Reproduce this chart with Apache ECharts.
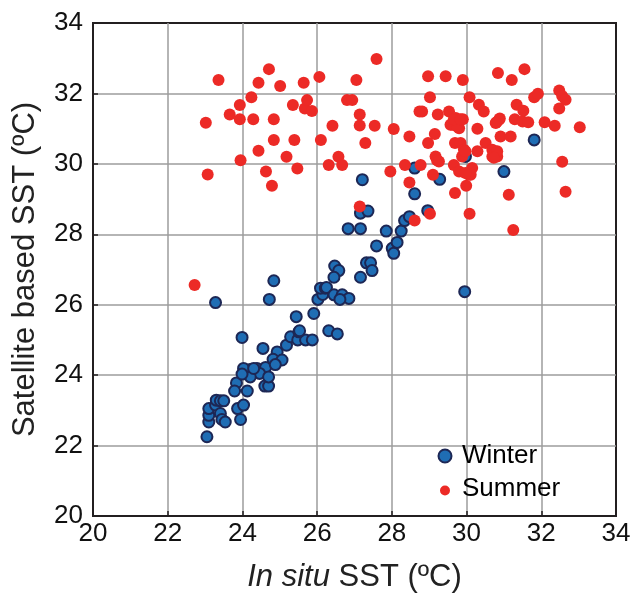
<!DOCTYPE html>
<html>
<head>
<meta charset="utf-8">
<script src="https://cdn.jsdelivr.net/npm/echarts@6/dist/echarts.min.js"></script>
<style>
  html, body { margin: 0; padding: 0; background: #fff; }
  #sst { width: 634px; height: 599px; }
</style>
</head>
<body>
<div id="sst"></div>
<script>
// in situ SST vs satellite SST, [x, y] pairs
var winterPts = [
  [23.05, 22.25], [23.10, 22.67], [23.10, 22.86], [23.10, 23.05], [23.28, 23.15],
  [23.30, 23.29], [23.41, 23.27], [23.50, 23.27], [23.41, 22.91], [23.45, 22.74],
  [23.54, 22.67], [23.87, 23.05], [24.03, 23.15], [23.95, 22.74], [23.84, 23.78],
  [23.79, 23.55], [24.13, 23.55], [24.60, 23.69], [24.70, 23.69], [24.08, 24.05],
  [24.21, 24.16], [24.39, 24.19], [24.62, 24.22], [24.46, 24.05], [24.21, 23.95],
  [24.70, 23.95], [24.03, 24.19], [24.30, 24.19], [23.99, 24.03], [24.55, 24.76],
  [23.99, 25.07], [24.93, 24.66], [24.82, 24.45], [25.06, 24.43], [24.88, 24.30],
  [25.18, 24.85], [25.29, 25.09], [25.48, 25.00], [25.69, 25.00], [25.51, 25.23],
  [25.87, 25.00], [25.44, 25.66], [25.53, 25.26], [25.91, 25.75], [26.31, 25.26],
  [26.54, 25.17], [23.28, 26.06], [24.72, 26.15], [24.84, 26.68], [26.02, 26.15],
  [26.15, 26.29], [26.09, 26.47], [26.22, 26.47], [26.25, 26.49], [26.45, 26.28],
  [26.67, 26.28], [26.85, 26.18], [26.61, 26.15], [26.47, 27.10], [26.58, 26.97],
  [26.45, 26.78], [27.32, 27.19], [27.43, 27.19], [27.47, 26.97], [27.16, 26.78],
  [27.59, 27.67], [28.01, 27.60], [28.05, 27.46], [28.14, 27.77], [27.85, 28.09],
  [28.25, 28.09], [28.34, 28.39], [28.47, 28.50], [28.96, 28.67], [26.83, 28.16],
  [27.16, 28.16], [27.16, 28.60], [27.36, 28.66], [27.21, 29.55], [28.61, 29.15],
  [28.61, 29.88], [29.28, 29.56], [29.97, 30.21], [31.00, 29.78], [31.81, 30.68],
  [29.95, 26.37]
]

var summerPts = [
  [22.72, 26.56], [23.02, 31.17], [23.07, 29.70], [23.36, 32.38], [23.66, 31.40],
  [23.93, 31.67], [23.93, 31.27], [23.95, 30.10], [24.24, 31.89], [24.29, 31.27],
  [24.43, 32.30], [24.43, 30.37], [24.63, 29.78], [24.71, 32.69], [24.79, 29.38],
  [24.84, 31.27], [24.84, 30.68], [25.01, 32.21], [25.18, 30.20], [25.35, 31.67],
  [25.39, 30.68], [25.47, 29.87], [25.64, 32.30], [25.67, 31.57], [25.73, 31.81],
  [25.86, 31.50], [26.06, 32.47], [26.10, 30.68], [26.31, 29.97], [26.41, 31.08],
  [26.57, 30.20], [26.67, 29.97], [26.80, 31.81], [26.94, 31.81], [27.05, 32.38],
  [27.14, 31.40], [27.14, 31.09], [27.29, 30.59], [27.14, 28.79], [27.54, 31.08],
  [27.59, 32.98], [27.96, 29.78], [28.05, 30.99], [28.35, 29.97], [28.47, 30.78],
  [28.47, 29.47], [28.61, 28.39], [28.74, 31.49], [28.81, 31.49], [28.77, 29.97],
  [28.97, 32.49], [28.97, 30.59], [29.02, 31.89], [29.02, 28.58], [29.10, 29.69],
  [29.15, 30.85], [29.17, 30.21], [29.21, 30.10], [29.23, 31.40], [29.44, 32.49],
  [29.53, 31.49], [29.62, 31.11], [29.66, 29.97], [29.69, 30.59], [29.69, 29.17],
  [29.71, 31.30], [29.80, 31.01], [29.80, 29.78], [29.84, 30.59], [29.88, 30.21],
  [29.90, 32.38], [29.90, 31.27], [29.93, 30.40], [29.99, 29.38], [30.06, 29.69],
  [30.08, 31.89], [30.08, 28.58], [30.15, 29.88], [30.29, 31.00], [30.29, 30.36],
  [30.33, 31.68], [30.46, 31.49], [30.51, 30.59], [30.69, 30.40], [30.69, 30.21],
  [30.80, 31.18], [30.82, 30.21], [30.84, 32.58], [30.89, 31.29], [30.91, 30.78],
  [31.13, 29.12], [31.18, 30.78], [31.21, 32.38], [31.25, 28.12], [31.29, 31.27],
  [31.34, 31.68], [31.50, 31.20], [31.52, 31.51], [31.55, 32.69], [31.65, 31.18],
  [31.81, 31.89], [31.91, 31.99], [32.09, 31.18], [32.36, 31.08], [32.48, 32.08],
  [32.56, 31.93], [32.65, 31.82], [32.48, 31.57], [32.56, 30.06], [32.65, 29.21],
  [33.03, 31.04], [29.57, 31.11], [29.75, 31.06], [29.66, 31.27], [29.84, 31.27],
  [30.87, 31.25], [30.78, 31.16], [29.97, 30.36], [30.82, 30.36], [30.73, 30.17],
  [29.26, 30.07], [30.11, 29.69], [29.97, 29.74]
]

var axisMin = 20
var axisMax = 34
var axisStep = 2

var charts = echarts.init(document.getElementById('sst'))
var font = 'Liberation Sans, Arial, sans-serif'
// smaller red dot in the legend: corner points pad the path box
var smallDot = 'path://M0,0L0.01,0M26,0L26.01,0M0,13L0.01,13M26,13L26.01,13M18,8A5,5 0 1,1 18,7.99Z'

var options = {
  animation: false,
  textStyle: { fontFamily: font },
  grid: {
    left: 93,
    right: 18,
    top: 23,
    bottom: 83,
    show: true,
    borderColor: '#231f20',
    borderWidth: 2
  },
  legend: {
    orient: 'vertical',
    left: 427,
    top: 437,
    itemWidth: 26,
    itemHeight: 13,
    itemGap: 5,
    textStyle: { fontSize: 26, color: '#000', fontFamily: font, lineHeight: 28, padding: [0, 0, 0, -1] },
    data: [
      { name: 'Winter', icon: 'circle' },
      { name: 'Summer', icon: smallDot }
    ]
  },
  xAxis: {
    type: 'value',
    min: axisMin,
    max: axisMax,
    interval: axisStep,
    name: '{i|In situ} SST (ºC)',
    nameLocation: 'middle',
    nameGap: 46,
    nameTextStyle: {
      fontSize: 31,
      color: '#222',
      rich: {
        i: { fontStyle: 'italic', fontSize: 31, color: '#222', fontFamily: font }
      }
    },
    axisLine: { lineStyle: { color: '#231f20', width: 2 } },
    axisTick: { inside: true, length: 5, lineStyle: { color: '#231f20', width: 1.5 } },
    axisLabel: { fontSize: 26, color: '#111', margin: 5 },
    splitLine: { showMinLine: false, showMaxLine: false, lineStyle: { color: '#9d9d9d', width: 1.5 } }
  },
  yAxis: {
    type: 'value',
    min: axisMin,
    max: axisMax,
    interval: axisStep,
    name: 'Satellite based SST (ºC)',
    nameLocation: 'middle',
    nameGap: 52,
    nameTextStyle: { fontSize: 31, color: '#222' },
    axisLine: { lineStyle: { color: '#231f20', width: 2 } },
    axisTick: { inside: true, length: 5, lineStyle: { color: '#231f20', width: 1.5 } },
    axisLabel: { fontSize: 26, color: '#111', margin: 10 },
    splitLine: { showMinLine: false, showMaxLine: false, lineStyle: { color: '#9d9d9d', width: 1.5 } }
  },
  series: [{
    name: 'Winter',
    type: 'scatter',
    symbolSize: 11,
    itemStyle: {
      color: '#1f6db4',
      borderColor: '#1d2755',
      borderWidth: 2,
      opacity: 1
    },
    data: winterPts
  }, {
    name: 'Summer',
    type: 'scatter',
    symbolSize: 12,
    itemStyle: {
      color: '#ec2a26',
      opacity: 1
    },
    data: summerPts
  }]
}

charts.setOption(options)
window.addEventListener('resize', function () {
  charts.resize()
})
</script>
</body>
</html>
